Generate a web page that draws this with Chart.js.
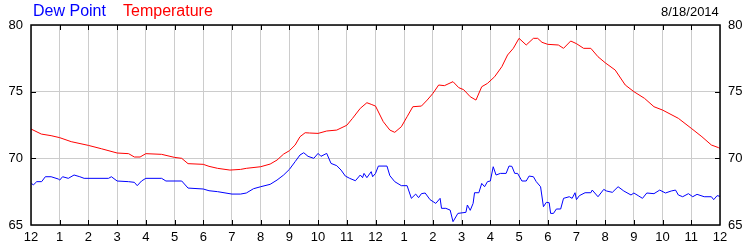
<!DOCTYPE html>
<html>
<head>
<meta charset="utf-8">
<script src="https://cdn.jsdelivr.net/npm/chart.js@4"></script>
<style>
  body { margin: 0; background: #fff; }
  #wrap { position: relative; width: 750px; height: 250px; }
  .hdr { position: absolute; font-family: "Liberation Sans", Arial, sans-serif; white-space: nowrap; }
</style>
</head>
<body>
<div id="wrap">
  <canvas id="weatherChart" width="750" height="250"></canvas>
  <div class="hdr" style="left:33px; top:2px; font-size:16px; color:#0000ff;">Dew Point</div>
  <div class="hdr" style="left:123px; top:2px; font-size:16px; color:#ff0000;">Temperature</div>
  <div class="hdr" style="left:661px; top:4px; font-size:13px; color:#000;">8/18/2014</div>
</div>
<script>
"use strict";

// подписи по оси X (часы)
const hourLabels = ["12", "1", "2", "3", "4", "5", "6", "7", "8", "9", "10", "11",
  "12", "1", "2", "3", "4", "5", "6", "7", "8", "9", "10", "11", "12"];
const yTicks = [65, 70, 75, 80];

// температура
const tempHours = [0, 0.36, 0.7, 1, 1.4, 2, 2.45, 3, 3.4, 3.6, 3.8, 4, 4.55, 5, 5.25, 5.47, 6, 6.2, 6.5, 6.93,
  7.3, 7.5, 8, 8.33, 8.57, 8.8, 9, 9.2, 9.37, 9.55, 9.7, 10, 10.3, 10.65, 11, 11.2, 11.47, 11.7, 11.85, 12,
  12.27, 12.5, 12.67, 12.9, 13.1, 13.3, 13.6, 13.8, 14, 14.2, 14.4, 14.7, 14.9, 15.07, 15.3, 15.5, 15.7, 15.9,
  16.15, 16.4, 16.6, 16.8, 17, 17.25, 17.5, 17.65, 17.8, 18, 18.37, 18.55, 18.8, 19, 19.25, 19.5, 19.75, 20,
  20.35, 20.7, 21, 21.37, 21.7, 22, 22.55, 23, 23.37, 23.7, 23.95, 24];
const tempValues = [72.2, 71.82, 71.7, 71.55, 71.25, 70.97, 70.72, 70.4, 70.35, 70.1, 70.1, 70.35, 70.3, 70.07, 70.0, 69.6, 69.55, 69.4, 69.25, 69.12,
  69.17, 69.25, 69.37, 69.57, 69.87, 70.32, 70.57, 71.0, 71.62, 71.92, 71.9, 71.87, 72.05, 72.12, 72.48, 73.0, 73.75, 74.17, 74.05, 73.92,
  72.75, 72.12, 71.95, 72.37, 73.12, 73.87, 73.92, 74.37, 74.87, 75.5, 75.45, 75.75, 75.3, 75.15, 74.62, 74.37, 75.37, 75.62,
  76.12, 76.87, 77.75, 78.25, 79.0, 78.5, 79.0, 79.0, 78.7, 78.55, 78.5, 78.25, 78.8, 78.6, 78.25, 78.25, 77.62, 77.17,
  76.62, 75.5, 75.0, 74.5, 73.87, 73.62, 73.0, 72.25, 71.62, 71.0, 70.8, 70.75];

// точка росы
const dewHours = [0, 0.08, 0.2, 0.37, 0.5, 0.7, 0.95, 1, 1.1, 1.3, 1.5, 1.7, 1.85, 2.7, 2.8, 3, 3.4, 3.6, 3.7, 3.85,
  4, 4.55, 4.7, 5.25, 5.47, 6, 6.2, 6.5, 7, 7.3, 7.5, 7.75, 8, 8.33, 8.57, 8.8, 9, 9.2, 9.37, 9.5,
  9.65, 9.85, 10, 10.1, 10.3, 10.45, 10.65, 10.8, 10.95, 11.1, 11.3, 11.47, 11.55, 11.6, 11.7, 11.85, 11.9, 12, 12.1, 12.4,
  12.5, 12.67, 12.9, 13.1, 13.25, 13.4, 13.5, 13.6, 13.73, 13.9, 14.1, 14.25, 14.3, 14.45, 14.6, 14.7, 14.87, 15.15, 15.2, 15.3,
  15.4, 15.45, 15.6, 15.7, 15.8, 15.9, 16, 16.1, 16.2, 16.35, 16.55, 16.65, 16.75, 16.85, 16.95, 17.1, 17.25, 17.35, 17.5, 17.6,
  17.75, 17.85, 17.95, 18.05, 18.1, 18.2, 18.3, 18.45, 18.55, 18.75, 18.85, 18.95, 19, 19.1, 19.3, 19.5, 19.55, 19.75, 19.95, 20.05,
  20.25, 20.45, 20.65, 20.9, 21, 21.15, 21.3, 21.45, 21.7, 21.9, 22.1, 22.3, 22.45, 22.55, 22.7, 22.9, 23.05, 23.2, 23.45, 23.7,
  23.78, 23.9, 24];
const dewValues = [68.17, 68.0, 68.25, 68.25, 68.62, 68.62, 68.45, 68.37, 68.62, 68.5, 68.75, 68.62, 68.5, 68.5, 68.62, 68.3, 68.25, 68.2, 67.95, 68.3,
  68.5, 68.5, 68.3, 68.3, 67.77, 67.7, 67.57, 67.5, 67.32, 67.32, 67.4, 67.72, 67.87, 68.05, 68.37, 68.75, 69.17, 69.75, 70.25, 70.42,
  70.15, 70.0, 70.37, 70.15, 70.37, 69.62, 69.45, 69.12, 68.67, 68.5, 68.32, 68.75, 68.55, 68.87, 68.55, 69.0, 68.62, 68.87, 69.42, 69.42,
  68.7, 68.25, 67.95, 67.95, 67.0, 67.32, 67.05, 67.35, 67.4, 66.9, 66.62, 67.0, 66.25, 66.25, 66.12, 65.25, 65.87, 65.95, 66.5, 66.1,
  66.62, 67.42, 67.42, 68.12, 67.87, 68.25, 68.3, 69.37, 68.75, 68.87, 68.87, 69.42, 69.4, 68.87, 68.87, 68.3, 68.3, 68.67, 68.62, 68.25,
  67.87, 66.37, 66.7, 66.67, 65.87, 65.87, 66.2, 66.2, 67.0, 67.12, 67.0, 67.42, 66.9, 67.2, 67.42, 67.42, 67.62, 67.12, 67.67, 67.55,
  67.45, 67.87, 67.55, 67.25, 67.4, 67.2, 67.0, 67.4, 67.35, 67.62, 67.4, 67.55, 67.62, 67.25, 67.12, 67.35, 67.12, 67.3, 67.12, 67.12,
  66.9, 67.2, 67.15];

const toPoints = (xs, ys) => xs.map((x, i) => ({ x: x, y: ys[i] }));

// рамка и внутренние засечки
const framePlugin = {
  id: "frame",
  afterDraw(chart) {
    const { ctx, chartArea: a, scales } = chart;
    ctx.save();
    ctx.strokeStyle = "#000";
    ctx.lineWidth = 1;
    for (let h = 1; h < hourLabels.length - 1; h++) {
      const px = Math.round(scales.x.getPixelForValue(h)) + 0.5;
      ctx.beginPath();
      ctx.moveTo(px, a.top); ctx.lineTo(px, a.top + 5);
      ctx.moveTo(px, a.bottom); ctx.lineTo(px, a.bottom - 5);
      ctx.stroke();
    }
    yTicks.slice(1, -1).forEach((v) => {
      const py = Math.round(scales.y.getPixelForValue(v)) + 0.5;
      ctx.beginPath();
      ctx.moveTo(a.left, py); ctx.lineTo(a.left + 5, py);
      ctx.moveTo(a.right, py); ctx.lineTo(a.right - 5, py);
      ctx.stroke();
    });
    ctx.lineWidth = 1.5;
    ctx.strokeRect(a.left, a.top, a.right - a.left, a.bottom - a.top);
    ctx.restore();
  },
};

const tickFont = { family: "'Liberation Sans', Arial, sans-serif", size: 13 };

new Chart(document.getElementById("weatherChart"), {
  type: "line",
  data: {
    datasets: [
      {
        label: "Temperature",
        data: toPoints(tempHours, tempValues),
        borderColor: "#ff0000",
        borderWidth: 1,
        pointRadius: 0,
        tension: 0,
        yAxisID: "y",
      },
      {
        label: "Dew Point",
        data: toPoints(dewHours, dewValues),
        borderColor: "#0000ff",
        borderWidth: 1,
        pointRadius: 0,
        tension: 0,
        yAxisID: "y",
      },
    ],
  },
  options: {
    responsive: false,
    animation: false,
    layout: { padding: { top: 25 } },
    plugins: { legend: { display: false }, tooltip: { enabled: false } },
    scales: {
      x: {
        type: "linear",
        min: 0,
        max: 24,
        afterFit: (s) => { s.height = 25; },
        ticks: {
          stepSize: 1,
          autoSkip: false,
          maxRotation: 0,
          padding: 5,
          color: "#000",
          font: tickFont,
          callback: (v) => hourLabels[v],
        },
        grid: { color: "#cccccc", drawTicks: false },
        border: { display: false },
      },
      y: {
        position: "left",
        min: 65,
        max: 80,
        afterFit: (s) => { s.width = 31; },
        afterBuildTicks: (s) => { s.ticks = yTicks.map((v) => ({ value: v })); },
        ticks: { padding: 8, color: "#000", font: tickFont },
        grid: { color: "#cccccc", drawTicks: false },
        border: { display: false },
      },
      y2: {
        position: "right",
        min: 65,
        max: 80,
        afterFit: (s) => { s.width = 30; },
        afterBuildTicks: (s) => { s.ticks = yTicks.map((v) => ({ value: v })); },
        ticks: { padding: 8, color: "#000", font: tickFont },
        grid: { display: false, drawTicks: false },
        border: { display: false },
      },
    },
  },
  plugins: [framePlugin],
});
</script>
</body>
</html>
